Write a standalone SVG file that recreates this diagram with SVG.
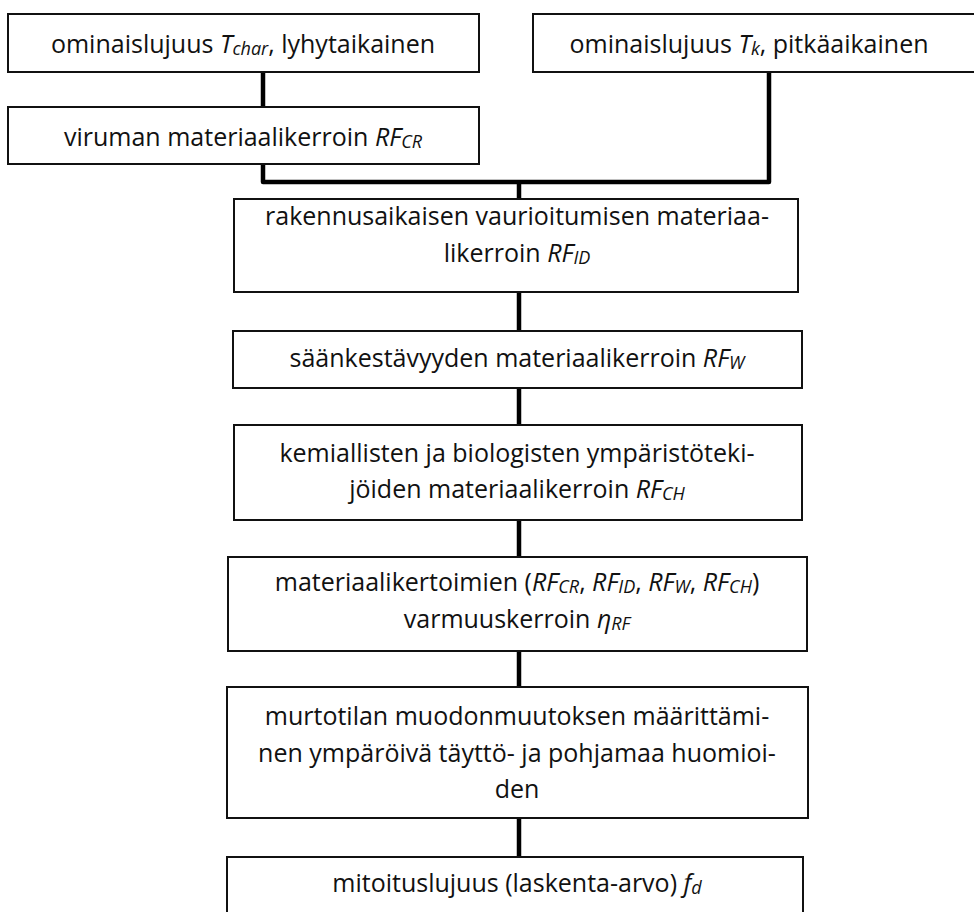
<svg xmlns="http://www.w3.org/2000/svg" width="974" height="912" viewBox="0 0 974 912">
<style>
.box{fill:#fff;stroke:#111;stroke-width:2}
.con{fill:none;stroke:#000;stroke-width:4.5;stroke-linejoin:round}
text{font-family:"Open Sans","Noto Sans",sans-serif;font-size:25px;fill:#111;text-anchor:middle}
.i{font-style:italic}
.s{font-style:italic;font-size:18px}
</style>
<rect width="974" height="912" fill="#fff"/>
<g id="connectors">
<path class="con" d="M263 72V107"/>
<path class="con" d="M263 164V182H769V72"/>
<path class="con" d="M519 182V199"/>
<path class="con" d="M519 292V331"/>
<path class="con" d="M519 388V425"/>
<path class="con" d="M519 520V557"/>
<path class="con" d="M519 651V687"/>
<path class="con" d="M519 818V857"/>
</g>
<g id="n1"><rect class="box" x="8" y="14" width="471" height="58"/>
<text x="243" y="53">ominaislujuus <tspan class="i">T</tspan><tspan class="s" dy="2">char</tspan><tspan dy="-2">, lyhytaikainen</tspan></text></g>
<g id="n2"><rect class="box" x="8" y="107" width="471" height="57"/>
<text x="243" y="146">viruman materiaalikerroin <tspan class="i">RF</tspan><tspan class="s" dy="2">CR</tspan></text></g>
<g id="n3"><rect class="box" x="533" y="14" width="460" height="58"/>
<text x="749" y="53">ominaislujuus <tspan class="i">T</tspan><tspan class="s" dy="2">k</tspan><tspan dy="-2">, pitkäaikainen</tspan></text></g>
<g id="n4"><rect class="box" x="234" y="199" width="564" height="93"/>
<text x="517" y="225">rakennusaikaisen vaurioitumisen materiaa-</text>
<text x="517" y="262">likerroin <tspan class="i">RF</tspan><tspan class="s" dy="2">ID</tspan></text></g>
<g id="n5"><rect class="box" x="233" y="331" width="569" height="57"/>
<text x="517" y="367">säänkestävyyden materiaalikerroin <tspan class="i">RF</tspan><tspan class="s" dy="2">W</tspan></text></g>
<g id="n6"><rect class="box" x="234" y="425" width="568" height="95"/>
<text x="517" y="462">kemiallisten ja biologisten ympäristöteki-</text>
<text x="517" y="498">jöiden materiaalikerroin <tspan class="i">RF</tspan><tspan class="s" dy="2">CH</tspan></text></g>
<g id="n7"><rect class="box" x="228" y="557" width="579" height="94"/>
<text x="517" y="591">materiaalikertoimien (<tspan class="i">RF</tspan><tspan class="s" dy="2">CR</tspan><tspan dy="-2">, </tspan><tspan class="i">RF</tspan><tspan class="s" dy="2">ID</tspan><tspan dy="-2">, </tspan><tspan class="i">RF</tspan><tspan class="s" dy="2">W</tspan><tspan dy="-2">, </tspan><tspan class="i">RF</tspan><tspan class="s" dy="2">CH</tspan><tspan dy="-2">)</tspan></text>
<text x="517" y="628">varmuuskerroin <tspan class="i">η</tspan><tspan class="s" dy="2">RF</tspan></text></g>
<g id="n8"><rect class="box" x="227" y="687" width="581" height="131"/>
<text x="517" y="725">murtotilan muodonmuutoksen määrittämi-</text>
<text x="517" y="762">nen ympäröivä täyttö- ja pohjamaa huomioi-</text>
<text x="517" y="798">den</text></g>
<g id="n9"><rect class="box" x="227" y="857" width="576" height="70"/>
<text x="517" y="892">mitoituslujuus (laskenta-arvo) <tspan class="i">f</tspan><tspan class="s" dy="2">d</tspan></text></g>
</svg>
